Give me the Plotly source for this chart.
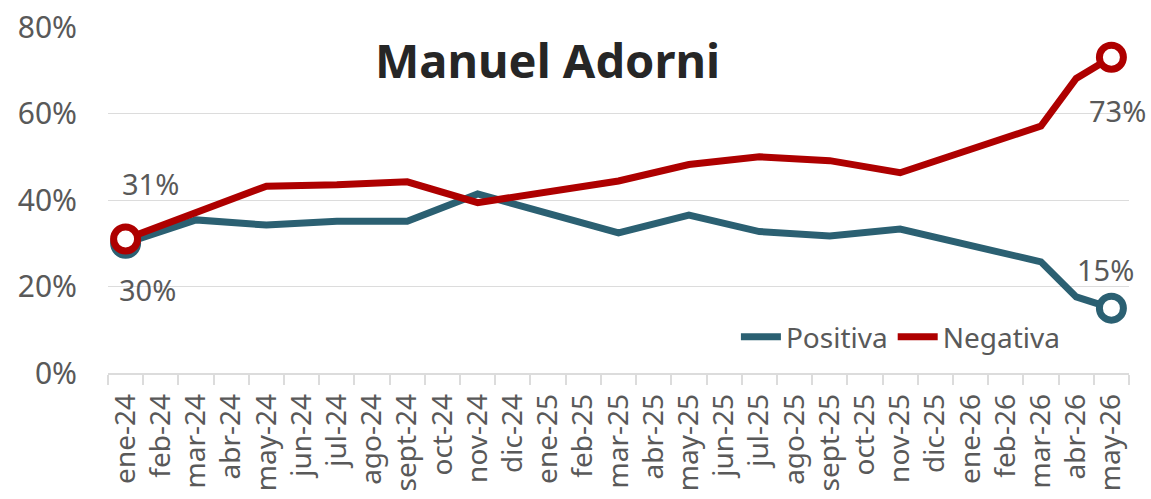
import plotly.graph_objects as go

months = ["ene-24", "feb-24", "mar-24", "abr-24", "may-24", "jun-24", "jul-24", "ago-24",
          "sept-24", "oct-24", "nov-24", "dic-24", "ene-25", "feb-25", "mar-25", "abr-25",
          "may-25", "jun-25", "jul-25", "ago-25", "sept-25", "oct-25", "nov-25", "dic-25",
          "ene-26", "feb-26", "mar-26", "abr-26", "may-26"]

# survey waves only; months without a poll stay empty and the line is bridged
positiva = [30, None, 35.4, None, 34.2, None, 35.1, None, 35.1, None, 41.4, None, None, None,
            32.4, None, 36.5, None, 32.7, None, 31.7, None, 33.3, None, None, None, 25.7, 17.6, 15]
negativa = [31, None, None, None, 43.2, None, 43.5, None, 44.2, None, 39.4, None, None, None,
            44.4, None, 48.2, None, 50.0, None, 49.1, None, 46.3, None, None, None, 57.1, 68.1, 73]

y_ticks = [0, 20, 40, 60, 80]

POS_COLOR = "#2b6072"
NEG_COLOR = "#ae0000"
TEXT_GREY = "#595959"
GRID = "#dcdcdc"
FONT = "Noto Sans"

fig = go.Figure()
for name, vals, color in [("Positiva", positiva, POS_COLOR), ("Negativa", negativa, NEG_COLOR)]:
    fig.add_trace(go.Scatter(
        x=months, y=vals, name=name, mode="lines", connectgaps=True,
        line=dict(color=color, width=7),
    ))
for name, vals, color in [("Positiva", positiva, POS_COLOR), ("Negativa", negativa, NEG_COLOR)]:
    # open circles on the first and last wave
    fig.add_trace(go.Scatter(
        x=[months[0], months[-1]], y=[vals[0], vals[-1]], mode="markers",
        showlegend=False, hoverinfo="skip", opacity=1,
        marker=dict(size=24, color="white", opacity=1, line=dict(color=color, width=7)),
    ))

# value labels at the first and last survey
labels = [
    (months[0], negativa[0], 25, 55),
    (months[0], positiva[0], 22, -46),
    (months[-1], negativa[-1], 6, -53),
    (months[-1], positiva[-1], -6, 39),
]
annotations = []
for x, y, dx, dy in labels:
    annotations.append(dict(
        x=x, y=y, xref="x", yref="y", text=f"{round(y)}%", showarrow=False,
        xshift=dx, yshift=dy, xanchor="center", yanchor="middle",
        font=dict(family=FONT, size=29, color=TEXT_GREY),
    ))
annotations.append(dict(
    x=0.43, y=0.905, xref="paper", yref="paper", text="<b>Manuel Adorni</b>",
    showarrow=False, xanchor="center", yanchor="middle",
    font=dict(family=FONT, size=47, color="#262626"),
))

fig.update_layout(
    width=1151, height=499,
    margin=dict(l=108, r=22, t=27, b=126),
    paper_bgcolor="white", plot_bgcolor="white",
    font=dict(family=FONT, color=TEXT_GREY),
    showlegend=True,
    legend=dict(orientation="h", x=0.615, y=0.104, xanchor="left", yanchor="middle",
                font=dict(family=FONT, size=28, color=TEXT_GREY),
                bgcolor="rgba(0,0,0,0)", itemwidth=40, tracegroupgap=0),
    annotations=annotations,
)
fig.update_xaxes(
    type="category", categoryorder="array", categoryarray=months,
    tickangle=-90, tickfont=dict(family=FONT, size=28, color=TEXT_GREY),
    showline=True, linecolor=GRID, linewidth=1.5,
    ticks="outside", tickson="boundaries", ticklen=10, tickcolor=GRID, tickwidth=1.5,
    showgrid=False, range=[-0.5, len(months) - 0.5], ticklabelstandoff=8,
    automargin=False,
)
fig.update_yaxes(
    range=[0, 80], tickvals=y_ticks, ticktext=[f"{v}%" for v in y_ticks],
    tickfont=dict(family=FONT, size=30, color=TEXT_GREY),
    showgrid=True, gridcolor=GRID, gridwidth=1, zeroline=False,
    ticks="", ticklabelstandoff=30, automargin=False,
)

fig.write_html("out.html")
